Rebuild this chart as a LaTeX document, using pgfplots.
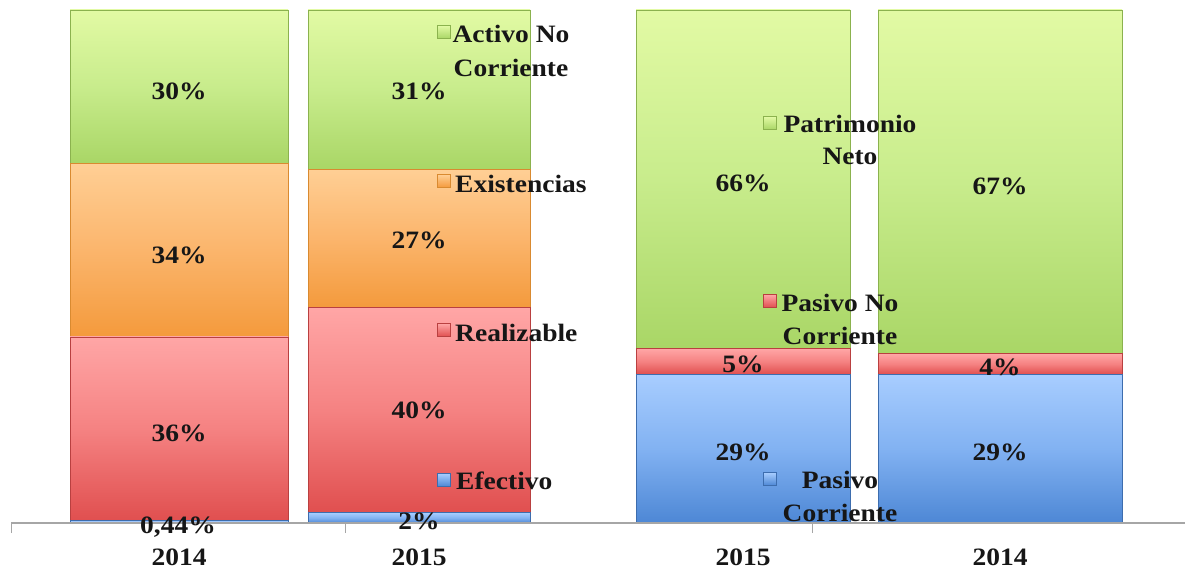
\documentclass[border=0pt]{standalone}
\usepackage{fontspec}
\setmainfont{Liberation Serif}[FakeStretch=1.1]
\usepackage{pgfplots}
\pgfplotsset{compat=1.18}
\definecolor{gT}{HTML}{E2FAA4}\definecolor{gM}{HTML}{C8EC8C}\definecolor{gB}{HTML}{A9D666}\definecolor{gE}{HTML}{8BB24E}
\definecolor{oT}{HTML}{FFCF95}\definecolor{oM}{HTML}{FBB56C}\definecolor{oB}{HTML}{F49A3C}\definecolor{oE}{HTML}{D98A30}
\definecolor{rT}{HTML}{FFA6A6}\definecolor{rM}{HTML}{F58282}\definecolor{rB}{HTML}{E04F4F}\definecolor{rE}{HTML}{B94040}
\definecolor{bT}{HTML}{A8CDFF}\definecolor{bM}{HTML}{82B2F2}\definecolor{bB}{HTML}{4D87D5}\definecolor{bE}{HTML}{3D6DAE}
\definecolor{axgray}{HTML}{A6A6A6}
\definecolor{txt}{HTML}{161616}
\newcommand\lab{\fontsize{25bp}{34bp}\selectfont\bfseries}
\pgfplotsset{
  base/.style={at={(11bp,51bp)}, anchor=south west, scale only axis,
    width=1174bp, height=513bp, xmin=11, xmax=1185, ymin=0, ymax=100,
    ybar stacked, clip=false},
  segG/.style={draw=gE, line width=0.6bp, top color=gT, bottom color=gB, middle color=gM},
  segO/.style={draw=oE, line width=0.6bp, top color=oT, bottom color=oB, middle color=oM},
  segR/.style={draw=rE, line width=0.6bp, top color=rT, bottom color=rB, middle color=rM},
  segB/.style={draw=bE, line width=0.6bp, top color=bT, bottom color=bB, middle color=bM},
}
\begin{document}
\begin{tikzpicture}
\useasboundingbox (0,0) rectangle (1185bp,574bp);
% Bar 1: 2014 (activo)
\begin{axis}[base, hide axis, bar width=218, ymax=100.44]
\addplot[segB] coordinates {(179,0.44)};
\addplot[segR] coordinates {(179,36)};
\addplot[segO] coordinates {(179,34)};
\addplot[segG] coordinates {(179,30)};
\end{axis}
% Bar 2: 2015 (activo)
\begin{axis}[base, hide axis, bar width=222]
\addplot[segB] coordinates {(419,2)};
\addplot[segR] coordinates {(419,40)};
\addplot[segO] coordinates {(419,27)};
\addplot[segG] coordinates {(419,31)};
\end{axis}
% Bar 3: 2015 (pasivo)
\begin{axis}[base, hide axis, bar width=214]
\addplot[segB] coordinates {(743,29)};
\addplot[segR] coordinates {(743,5)};
\addplot[segG] coordinates {(743,66)};
\end{axis}
% Bar 4: 2014 (pasivo) + x axis
\begin{axis}[base, bar width=244, axis on top,
  axis x line*=bottom, axis y line=none,
  axis line style={color=axgray, line width=1.5bp},
  xtick={11,345,812}, xticklabels={,,},
  major tick length=10bp, tick align=outside,
  tick style={color=axgray, line width=1bp},
  extra x ticks={179,419,743,1000},
  extra x tick labels={2014,2015,2015,2014},
  extra x tick style={major tick length=0pt, tick label style={yshift=-22bp}},
  x tick label style={font=\lab, text=txt}]
\addplot[segB] coordinates {(1000,29)};
\addplot[segR] coordinates {(1000,4)};
\addplot[segG] coordinates {(1000,67)};
\end{axis}
\begin{scope}[x=1bp, y=-1bp, shift={(0bp,574bp)}]
\tikzset{pl/.style={font=\lab, text=txt, anchor=base, inner sep=0pt},
         lw/.style={font=\lab, text=txt, anchor=base west, inner sep=0pt}}
% percentage labels
\node[pl] at (179,100) {30\%};
\node[pl] at (179,264) {34\%};
\node[pl] at (179,442) {36\%};
\node[pl] at (178,534) {0,44\%};
\node[pl] at (419,100) {31\%};
\node[pl] at (419,249) {27\%};
\node[pl] at (419,419) {40\%};
\node[pl] at (419,530) {2\%};
\node[pl] at (743,192) {66\%};
\node[pl] at (743,373) {5\%};
\node[pl] at (743,461) {29\%};
\node[pl] at (1000,195) {67\%};
\node[pl] at (1000,376) {4\%};
\node[pl] at (1000,461) {29\%};
% legend markers
\shade[draw=gE, line width=0.5bp, top color=gT, bottom color=gB] (437.5,25.5) rectangle (450.5,38.5);
\shade[draw=oE, line width=0.5bp, top color=oT, bottom color=oB] (437.5,174.5) rectangle (450.5,187.5);
\shade[draw=rE, line width=0.5bp, top color=rT, bottom color=rB] (437.5,323.5) rectangle (450.5,336.5);
\shade[draw=bE, line width=0.5bp, top color=bT, bottom color=bB] (437.5,473.5) rectangle (450.5,486.5);
\shade[draw=gE, line width=0.5bp, top color=gT, bottom color=gB] (763.5,116.5) rectangle (776.5,129.5);
\shade[draw=rE, line width=0.5bp, top color=rT, bottom color=rB] (763.5,294.5) rectangle (776.5,307.5);
\shade[draw=bE, line width=0.5bp, top color=bT, bottom color=bB] (763.5,472.5) rectangle (776.5,485.5);
% legend texts
\node[pl] at (511,43) {Activo No};
\node[pl] at (511,77) {Corriente};
\node[lw] at (455,193) {Existencias};
\node[lw] at (455,342) {Realizable};
\node[lw] at (456,490) {Efectivo};
\node[pl] at (850,133) {Patrimonio};
\node[pl] at (850,165) {Neto};
\node[pl] at (840,312) {Pasivo No};
\node[pl] at (840,345) {Corriente};
\node[pl] at (840,489) {Pasivo};
\node[pl] at (840,522) {Corriente};
\end{scope}
\end{tikzpicture}
\end{document}
